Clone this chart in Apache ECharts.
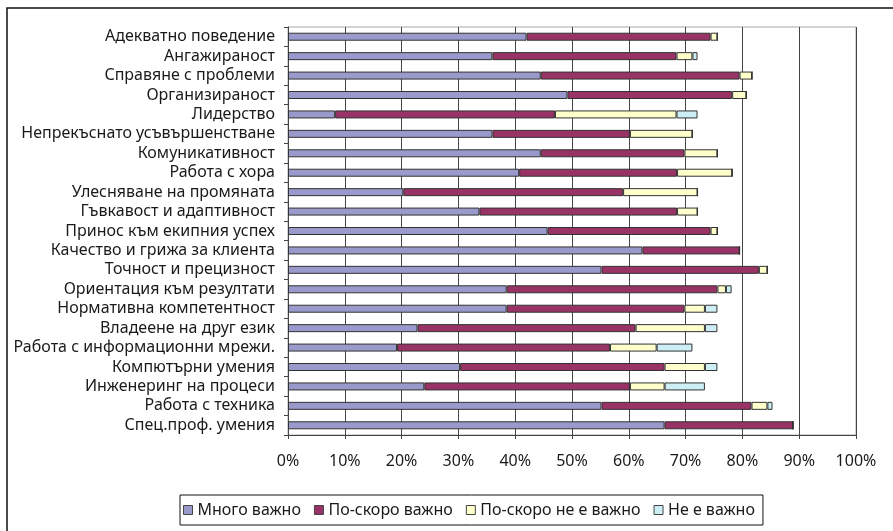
<!DOCTYPE html>
<html>
<head>
<meta charset="utf-8">
<script src="https://cdn.jsdelivr.net/npm/echarts@6/dist/echarts.min.js"></script>
<style>
html, body { margin: 0; padding: 0; background: #fff; }
#chart { width: 893px; height: 531px; }
</style>
</head>
<body>
<div id="chart"></div>
<script>
const categories = ['Адекватно поведение', 'Ангажираност', 'Справяне с проблеми', 'Организираност', 'Лидерство',
  'Непрекъснато усъвършенстване', 'Комуникативност', 'Работа с хора', 'Улесняване на промяната',
  'Гъвкавост и адаптивност', 'Принос към екипния успех', 'Качество и грижа за клиента', 'Точност и прецизност',
  'Ориентация към резултати', 'Нормативна компетентност', 'Владеене на друг език',
  'Работа с информационни мрежи.', 'Компютърни умения', 'Инженеринг на процеси', 'Работа с техника',
  'Спец.проф. умения']

const veryImportant = [42, 36, 44.5, 49.2, 8.3, 36, 44.5, 40.7, 20.3, 33.7, 45.7, 62.4, 55.2, 38.5, 38.5, 22.8, 19.2, 30.3, 24, 55.2, 66.3]
const ratherImportant = [32.4, 32.4, 35, 29, 38.7, 24.2, 25.3, 27.8, 38.7, 34.8, 28.7, 17.1, 27.7, 37.1, 31.3, 38.4, 37.5, 36, 36.2, 26.4, 22.6]
const ratherNotImportant = [1.2, 2.8, 2.2, 2.5, 21.4, 11, 5.8, 9.7, 13.1, 3.6, 1.2, 0, 1.5, 1.5, 3.6, 12.2, 8.2, 7.1, 6.1, 2.8, 0]
const notImportant = [0, 0.9, 0, 0, 3.7, 0, 0, 0, 0, 0, 0, 0, 0, 1.0, 2.2, 2.2, 6.3, 2.2, 7.1, 0.9, 0]

const legends = ['Много важно', 'По-скоро важно', 'По-скоро не е важно', 'Не е важно']
const colors = ['#9999cc', '#993366', '#ffffcc', '#cceef4']
const xTicks = [0, 10, 20, 30, 40, 50, 60, 70, 80, 90, 100]

const font = 'Noto Sans'
const fontSize = 16

function makeSeries (name, data, color) {
  return {
    name: name,
    type: 'bar',
    stack: 'total',
    barWidth: 8,
    itemStyle: {
      color: color,
      borderColor: '#333',
      borderWidth: 1
    },
    data: data
  }
}

function drawChart (id) {
  const chart = echarts.init(document.getElementById(id))
  chart.setOption({
    animation: false,
    color: colors,
    textStyle: { fontFamily: font },
    graphic: [{
      type: 'rect',
      shape: { x: 7, y: 8, width: 900, height: 540 },
      style: { fill: 'none', stroke: '#111', lineWidth: 1.5 },
      silent: true
    }],
    legend: {
      data: legends,
      left: 180,
      top: 495,
      padding: [7, 8, 7, 3],
      icon: 'rect',
      itemWidth: 9,
      itemHeight: 9,
      itemGap: 13,
      borderColor: '#111',
      borderWidth: 1,
      textStyle: { fontSize: fontSize, color: '#1a1a1a', fontFamily: font },
      itemStyle: { borderColor: '#444', borderWidth: 1 }
    },
    grid: {
      left: 288,
      right: 37,
      top: 27,
      bottom: 96,
      show: true,
      borderColor: '#a8a8a8',
      borderWidth: 1
    },
    xAxis: {
      type: 'value',
      min: xTicks[0],
      max: xTicks[xTicks.length - 1],
      interval: 10,
      axisLine: { show: true, lineStyle: { color: '#444', width: 1 } },
      axisTick: { show: true, length: 4, lineStyle: { color: '#444' } },
      splitLine: { show: true, lineStyle: { color: '#444', width: 1 } },
      axisLabel: {
        margin: 18,
        fontSize: fontSize,
        color: '#1a1a1a',
        formatter: '{value}%'
      }
    },
    yAxis: {
      type: 'category',
      inverse: true,
      data: categories,
      axisLine: { show: true, lineStyle: { color: '#444', width: 1 } },
      axisTick: { show: true, length: 4, inside: false, lineStyle: { color: '#444' } },
      axisLabel: {
        margin: 13,
        fontSize: fontSize,
        color: '#1a1a1a',
        interval: 0
      }
    },
    series: [
      makeSeries(legends[0], veryImportant, colors[0]),
      makeSeries(legends[1], ratherImportant, colors[1]),
      makeSeries(legends[2], ratherNotImportant, colors[2]),
      makeSeries(legends[3], notImportant, colors[3])
    ]
  })
}

drawChart('chart')
</script>
</body>
</html>
